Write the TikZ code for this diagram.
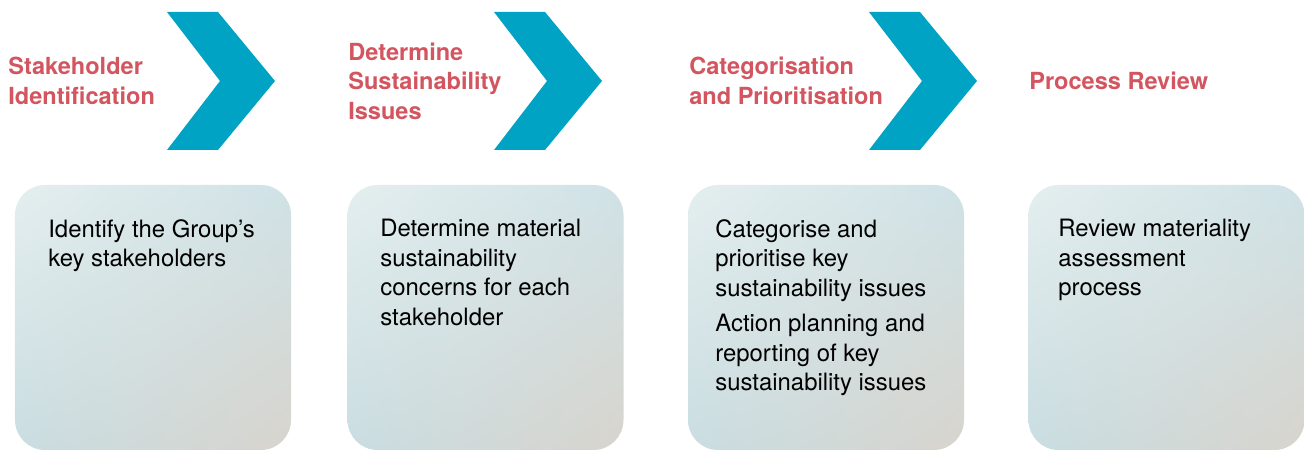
\documentclass[tikz,border=0pt]{standalone}
\usepackage{fontspec}
\setmainfont{TeX Gyre Heros}
\usetikzlibrary{shadings}

\definecolor{chevblue}{HTML}{00A3C4}
\definecolor{headred}{HTML}{D2555F}
\definecolor{boxul}{HTML}{E4EEEF}
\definecolor{boxur}{HTML}{CFE2E6}
\definecolor{boxll}{HTML}{C9DDE1}
\definecolor{boxlr}{HTML}{D8D4CD}

\tikzset{
    chevron/.style={fill=chevblue, draw=none},
    stagehead/.style={anchor=west, inner sep=0pt, align=left, text=headred,
        font=\fontsize{13.4}{16.8}\selectfont\bfseries},
    stagebox/.style={rounded corners=0.6cm, minimum width=5.52cm, minimum height=5.30cm,
        inner sep=0pt, shade, upper left=boxul, upper right=boxur,
        lower left=boxll, lower right=boxlr},
    stagetext/.style={anchor=north west, inner sep=0pt, align=left, text=black,
        font=\fontsize{13.6}{16.8}\selectfont}
}

\begin{document}
\begin{tikzpicture}
    \useasboundingbox (0, 0) rectangle (26.08, 9.04);

    % chevrons between the steps
    \foreach \x in {3.34, 9.88, 17.38} {
        \fill [chevron] (\x, 8.80) -- ++(1.02, 0) -- ++(1.14, -1.38) -- ++(-1.14, -1.38)
            -- ++(-1.02, 0) -- ++(1.06, 1.38) -- cycle;
    }

    % step titles
    \node [stagehead] (head1) at (0.16, 7.42) {Stakeholder\\Identification};
    \node [stagehead] (head2) at (6.96, 7.42) {Determine\\Sustainability\\Issues};
    \node [stagehead] (head3) at (13.78, 7.42) {Categorisation\\and Prioritisation};
    \node [stagehead] (head4) at (20.58, 7.42) {Process Review};

    % boxes
    \node [stagebox] (box1) at (3.06, 2.69) {};
    \node [stagebox] (box2) at (9.71, 2.69) {};
    \node [stagebox] (box3) at (16.52, 2.69) {};
    \node [stagebox] (box4) at (23.33, 2.69) {};

    \node [stagetext] (task1) at (0.96, 4.66) {Identify the Group’s\\key stakeholders};
    \node [stagetext] (task2) at (7.60, 4.66) {Determine material\\sustainability\\concerns for each\\stakeholder};
    \node [stagetext] (task3) at (14.30, 4.66) {Categorise and\\prioritise key\\sustainability issues\\[3.4pt]Action planning and\\reporting of key\\sustainability issues};
    \node [stagetext] (task4) at (21.16, 4.66) {Review materiality\\assessment\\process};
\end{tikzpicture}
\end{document}
